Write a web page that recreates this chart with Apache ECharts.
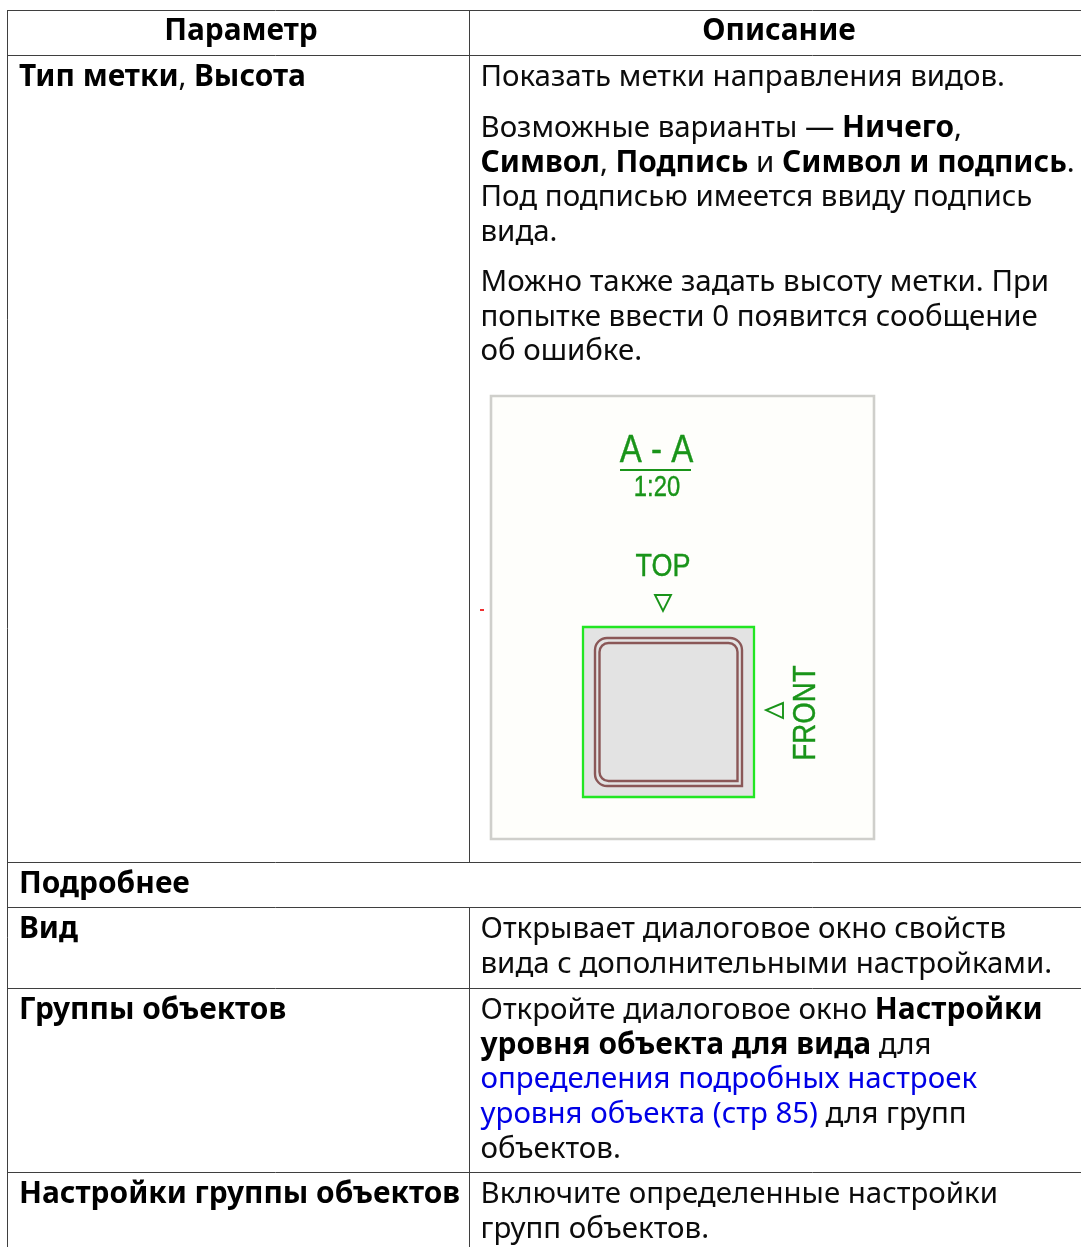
<!DOCTYPE html>
<html><head><meta charset="utf-8">
<style>html,body{margin:0;padding:0;background:#fff}#c{width:1081px;height:1247px}</style>
<script src="https://cdn.jsdelivr.net/npm/echarts@6/dist/echarts.min.js"></script>
</head><body><div id="c"></div>
<script>
// Text content: {b|…} = bold run, {l|…} = link run
const headers = ['Параметр', 'Описание'];
const rowTitles = ['{b|Тип метки}, {b|Высота}', '{b|Подробнее}', '{b|Вид}', '{b|Группы объектов}', '{b|Настройки группы объектов}'];
const descLabel1 = ['Показать метки направления видов.'];
const descLabel2 = [
  'Возможные варианты — {b|Ничего},',
  '{b|Символ}, {b|Подпись} и {b|Символ и подпись}.',
  'Под подписью имеется ввиду подпись',
  'вида.'
];
const descLabel3 = [
  'Можно также задать высоту метки. При',
  'попытке ввести 0 появится сообщение',
  'об ошибке.'
];
const descView = ['Открывает диалоговое окно свойств', 'вида с дополнительными настройками.'];
const descGroups = [
  'Откройте диалоговое окно {b|Настройки}',
  '{b|уровня объекта для вида} для',
  '{l|определения подробных настроек}',
  '{l|уровня объекта (стр 85)} для групп',
  'объектов.'
];
const descGroupSettings = ['Включите определенные настройки', 'групп объектов.'];
const figureTexts = ['A - A', '1:20', 'TOP', 'FRONT'];

const FONT = '"Noto Sans"', SIZE = 29.45, BOLD = 29.9, LH = 34.8;
const INK = '#0c0c0c', LINE = '#3f3f3f';
const els = [];
const rich = {
  b: {fontFamily: FONT, fontSize: BOLD, fontWeight: 'bold', fill: '#000', color: '#000'},
  l: {fontFamily: FONT, fontSize: SIZE, fontWeight: 'normal', fill: '#0000e6', color: '#0000e6'}
};
function text(str, x, y, opt) {
  opt = opt || {};
  els.push({type: 'text', x, y, z: 5, style: {
    text: str, fontFamily: FONT, fontSize: opt.bold ? BOLD : SIZE, fontWeight: opt.bold ? 'bold' : 'normal',
    fill: opt.bold ? '#000' : INK, align: opt.align || 'left', verticalAlign: 'middle', rich
  }});
}
function lines(arr, x, y0) { arr.forEach((s, i) => text(s, x, y0 + i * LH)); }
function seg(x1, y1, x2, y2, w, c) {
  els.push({type: 'line', z: 3, shape: {x1, y1, x2, y2}, style: {stroke: c || LINE, lineWidth: w || 1}});
}

// Table rules
[10.5, 55.5, 862.5, 907.5, 988.5, 1172.5].forEach(y => seg(7, y, 1081, y));
seg(7.5, 10, 7.5, 1247);
seg(469.5, 10, 469.5, 862);
seg(469.5, 907, 469.5, 1247);

// Headers
text(headers[0], 241, 31, {align: 'center', bold: true});
text(headers[1], 779, 31, {align: 'center', bold: true});

// Row titles
const L = 19, R = 480.5, dy = 1.5;
[76, 883, 928, 1009, 1193].forEach((y, i) => text(rowTitles[i], L, y + dy));

// Descriptions
lines(descLabel1, R, 76 + dy);
lines(descLabel2, R, 127 + dy);
lines(descLabel3, R, 281 + dy);
lines(descView, R, 928 + dy);
lines(descGroups, R, 1009 + dy);
lines(descGroupSettings, R, 1193 + dy);

// Embedded figure
const G = '#199419', SANS = '"Liberation Sans"';
els.push({type: 'rect', z: 1, shape: {x: 491, y: 396, width: 383, height: 443},
  style: {fill: '#fefefb', stroke: '#cfcfcb', lineWidth: 2.6}});
function figText(s, x, y, size, sx, rotation) {
  els.push({type: 'text', x, y, scaleX: sx, rotation: rotation || 0, z: 4, style: {
    text: s, fontFamily: SANS, fontSize: size, fill: G, stroke: G, lineWidth: 0.4,
    align: 'center', verticalAlign: 'middle'}});
}
figText(figureTexts[0], 656.5, 452, 38, 0.87);
seg(620, 470, 691, 470, 2, G);
figText(figureTexts[1], 657, 488, 29, 0.82);
figText(figureTexts[2], 663, 567, 31, 0.87);
els.push({type: 'polygon', z: 4, shape: {points: [[655, 595], [671, 595], [663, 611]]},
  style: {fill: 'none', stroke: G, lineWidth: 1.9}});
els.push({type: 'rect', z: 2, shape: {x: 583, y: 627, width: 171, height: 170},
  style: {fill: '#e3e3e3', stroke: '#22e622', lineWidth: 2.3}});
els.push({type: 'rect', z: 3, shape: {x: 595, y: 638, width: 147, height: 148, r: [12, 12, 0, 12]},
  style: {fill: 'none', stroke: '#8a5757', lineWidth: 2.4}});
els.push({type: 'rect', z: 3, shape: {x: 599.5, y: 643, width: 138, height: 138, r: [9, 9, 0, 9]},
  style: {fill: 'none', stroke: '#8a5757', lineWidth: 2.4}});
els.push({type: 'polygon', z: 4, shape: {points: [[783, 703], [783, 718], [766, 710]]},
  style: {fill: 'none', stroke: G, lineWidth: 1.9}});
figText(figureTexts[3], 806, 713, 31, 0.89, Math.PI / 2);
els.push({type: 'rect', z: 4, shape: {x: 480, y: 609, width: 4, height: 2}, style: {fill: '#f03030'}});

const chart = echarts.init(document.getElementById('c'), null, {renderer: 'canvas'});
chart.setOption({animation: false, backgroundColor: '#fff', graphic: {elements: els}});
</script></body></html>
